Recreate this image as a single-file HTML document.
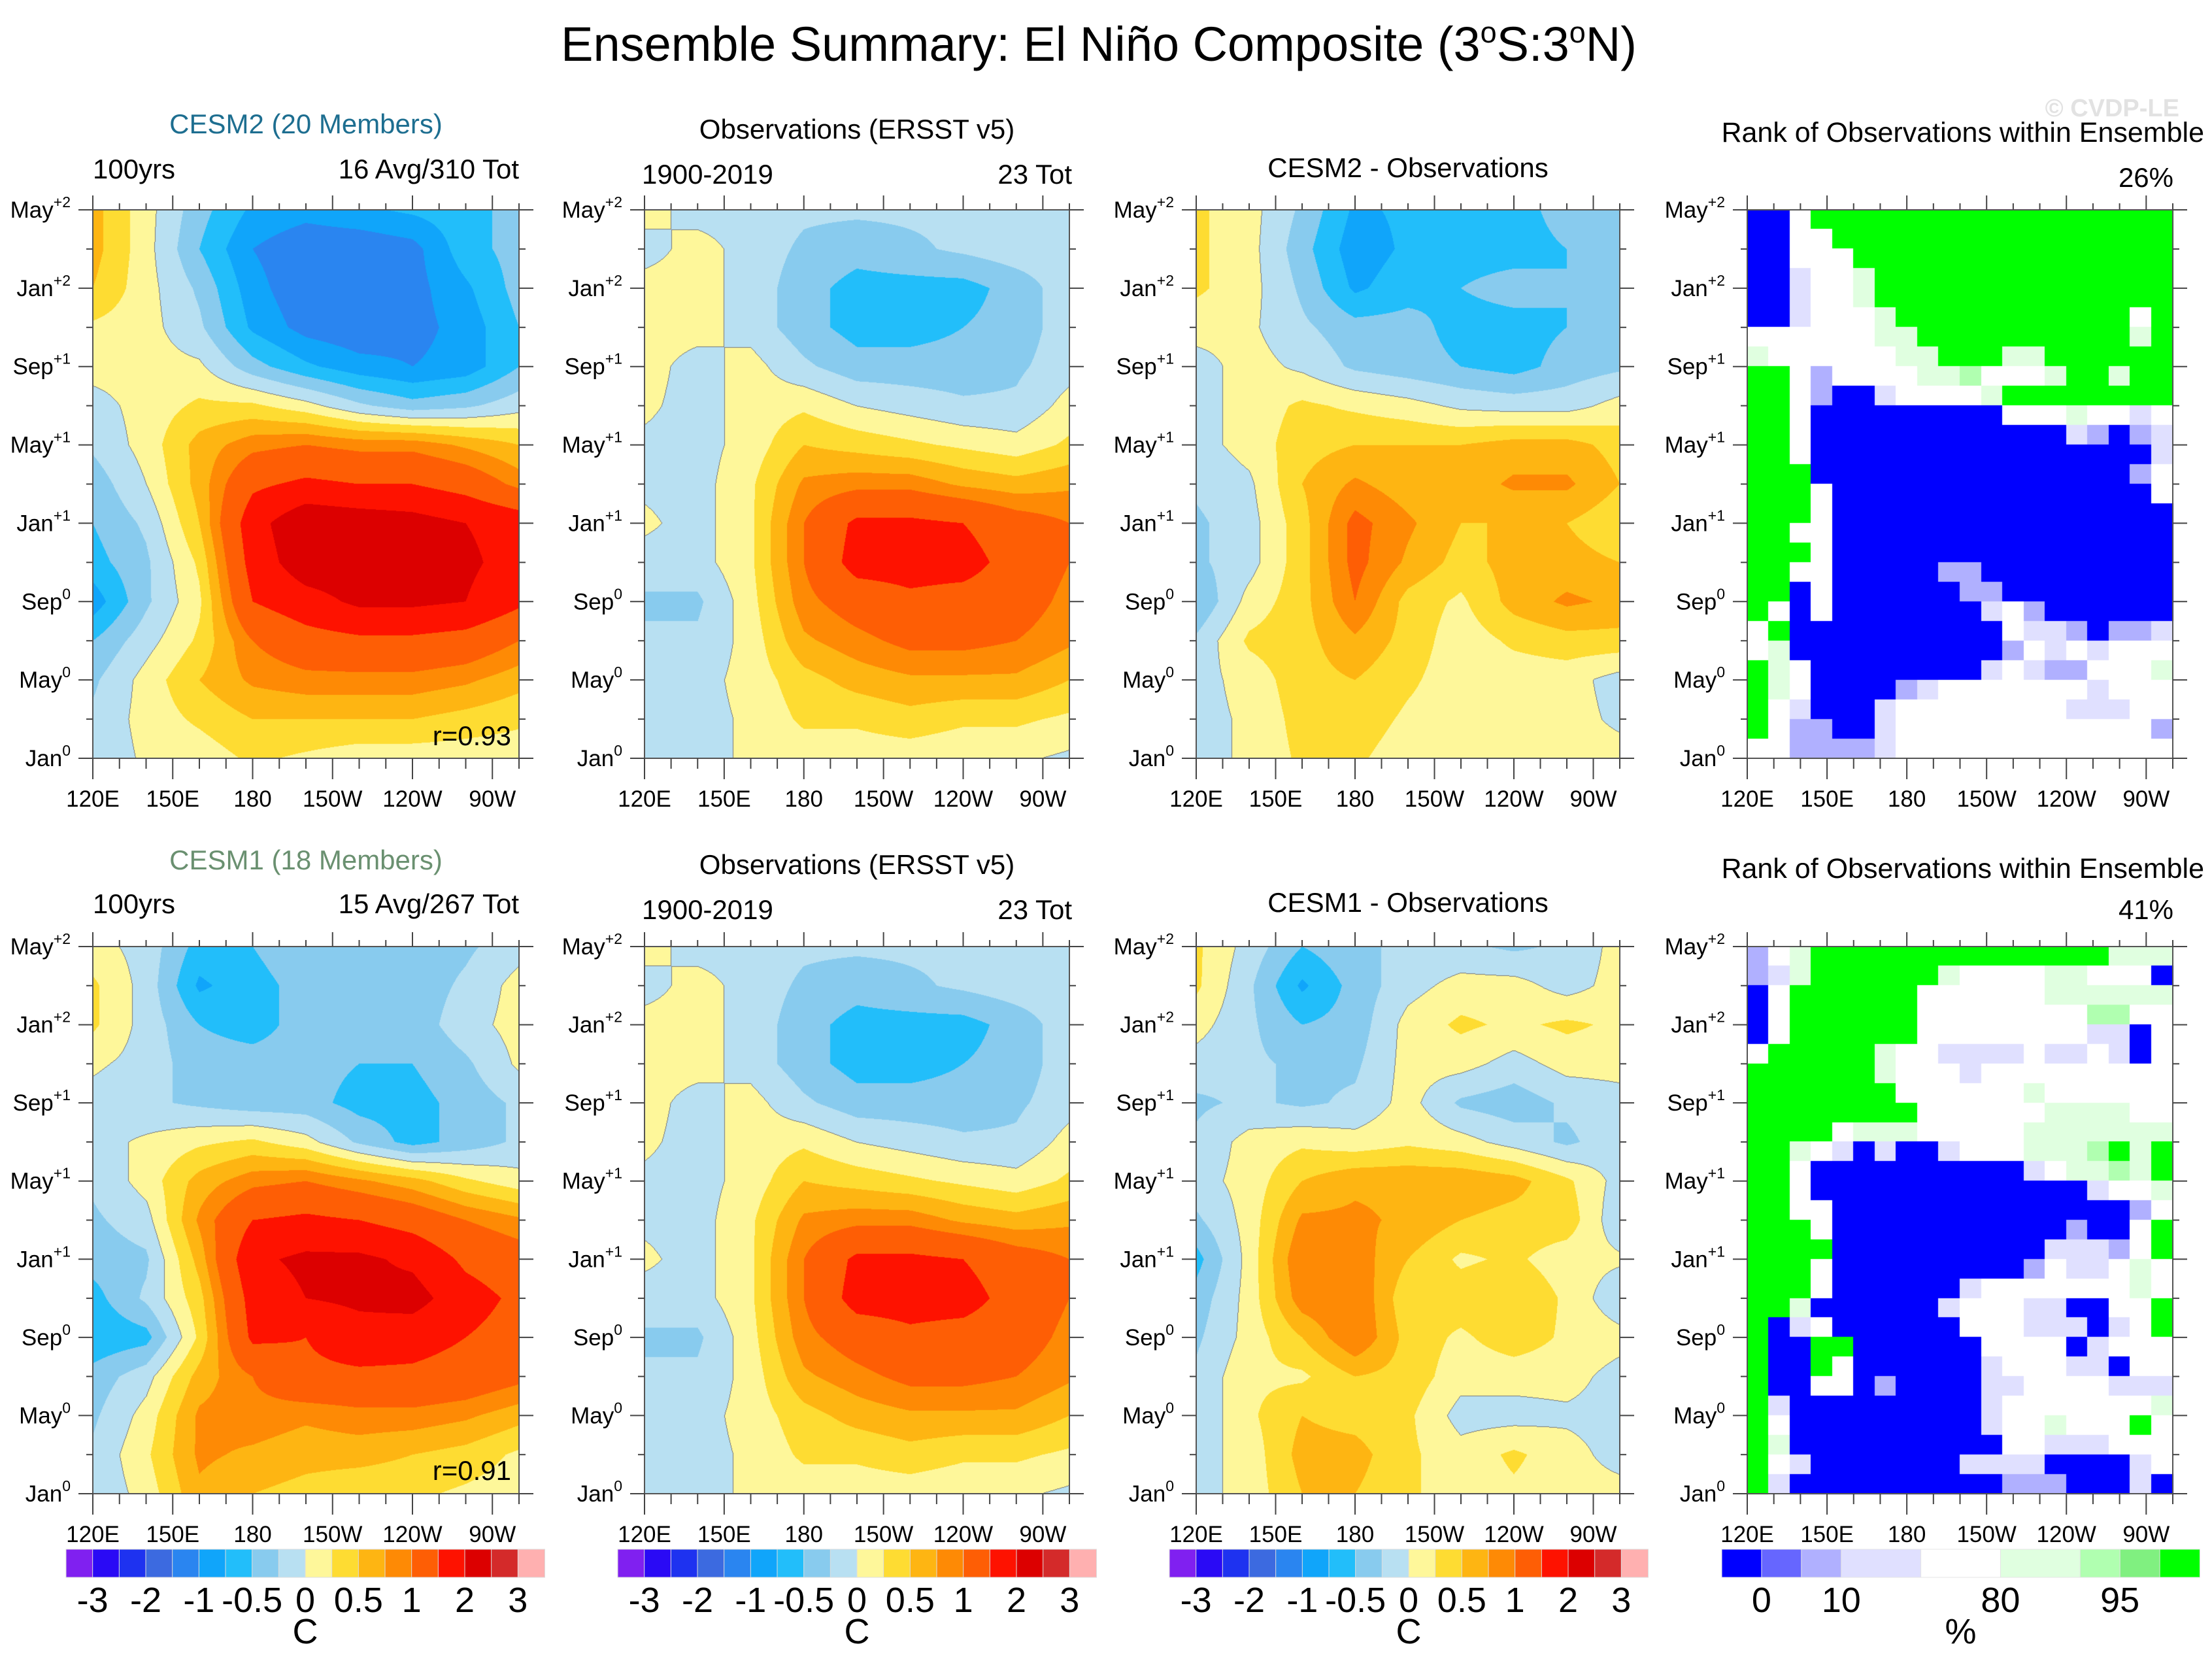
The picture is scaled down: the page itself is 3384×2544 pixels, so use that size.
<!DOCTYPE html>
<html><head><meta charset="utf-8"><title>Ensemble Summary: El Niño Composite</title>
<style>
html,body{margin:0;padding:0;background:#fff;}
#wrap{position:relative;width:3384px;height:2544px;overflow:hidden;}
#fills{position:absolute;left:0;top:0;}
#chart{position:absolute;left:0;top:0;}
text{font-family:"Liberation Sans",Arial,sans-serif;fill:#000;}
</style></head>
<body>
<div id="wrap">
<canvas id="fills" width="3384" height="2544"></canvas>
<svg id="chart" width="3384" height="2544" xmlns="http://www.w3.org/2000/svg">
<text x="1681" y="93" font-size="74" text-anchor="middle">Ensemble Summary: El Niño Composite (3<tspan font-size="45" dy="-28">o</tspan><tspan dy="28">S:3</tspan><tspan font-size="45" dy="-28">o</tspan><tspan dy="28">N)</tspan></text>
<text x="3334" y="178" font-size="38" font-weight="bold" text-anchor="end" style="fill:#e2e2e2">© CVDP-LE</text>
</svg>
</div>
<script>
// ---- colour scales ----
const tempLevels = [-3,-2.5,-2,-1.5,-1,-0.75,-0.5,-0.25,0,0.25,0.5,0.75,1,1.5,2,2.5,3];
const tempColors = ['#8020F0','#2A0AF5','#1E32F0','#3C6AE0','#2A85F0','#10A5FA','#22BEFA','#88CBEE','#B8E0F2','#FEF79A','#FEDC32','#FEB512','#FE8A05','#FE5E05','#FE1200','#DC0000','#D42A2A','#FFB0B0'];
const tempTickLabels = ['-3','-2','-1','-0.5','0','0.5','1','2','3'];
const rankColors = ['#0000FF','#6666FF','#B0B0FF','#E0E0FF','#FFFFFF','#E0FFE0','#B0FFB0','#80F080','#00FF00'];
const rankUnits = [1,1,1,2,2,2,1,1,1];
const rankTickLabels = ['0','10','80','95'];
const rankTickBoundary = [1,3,5,7];

// ---- axes ----
const lonTicks = [120,150,180,210,240,270];
const lonTickLabels = ['120E','150E','180','150W','120W','90W'];
const monthTicks = [0,4,8,12,16,20,24,28];
const monthNames = ['Jan','May','Sep','Jan','May','Sep','Jan','May'];
const monthSups = ['0','0','0','+1','+1','+1','+2','+2'];
const gridLons = [120,140,160,180,200,220,240,260,280];
const gridMonths = [28,26,24,22,20,18,16,14,12,10,8,6,4,2,0];

// ---- data (deg C) ----
const cesm2Comp = [
[0.6,0.1,-0.4,-0.8,-0.9,-0.8,-0.7,-0.6,-0.4],
[0.6,0.1,-0.5,-1.0,-1.2,-1.2,-1.1,-0.6,-0.4],
[0.5,0.1,-0.3,-0.9,-1.2,-1.2,-1.1,-0.8,-0.4],
[0.2,0.1,-0.2,-0.8,-1.1,-1.2,-1.1,-0.9,-0.5],
[0.1,0.1,0.05,-0.4,-0.7,-0.9,-1.0,-0.9,-0.5],
[-0.1,0.1,0.3,0.3,0.1,-0.2,-0.4,-0.3,-0.1],
[-0.2,0.1,0.6,0.9,1.0,0.9,0.9,0.7,0.5],
[-0.4,0.0,0.6,1.4,1.6,1.5,1.5,1.3,0.9],
[-0.5,-0.2,0.5,1.8,2.4,2.3,2.2,2.0,1.8],
[-0.6,-0.3,0.3,1.7,2.3,2.3,2.2,2.1,1.8],
[-0.9,-0.3,0.2,1.5,1.8,2.1,2.1,2.0,1.6],
[-0.5,-0.1,0.3,1.0,1.3,1.4,1.4,1.3,1.0],
[-0.3,0.1,0.5,0.8,0.9,0.9,0.9,0.8,0.6],
[-0.2,0.1,0.3,0.5,0.5,0.5,0.5,0.4,0.3],
[-0.2,0.05,0.1,0.3,0.2,0.1,0.1,0.1,0.1]];
const obsComp1 = [
[0.1,-0.1,-0.1,-0.2,-0.2,-0.2,-0.2,-0.2,-0.2],
[-0.1,0.1,-0.1,-0.3,-0.4,-0.3,-0.2,-0.1,-0.1],
[0.1,0.1,-0.1,-0.4,-0.6,-0.6,-0.6,-0.4,-0.1],
[0.1,0.1,-0.1,-0.4,-0.6,-0.6,-0.5,-0.4,-0.1],
[0.1,-0.1,0.1,-0.2,-0.4,-0.4,-0.4,-0.3,-0.1],
[0.05,-0.1,0.1,0.2,0.0,-0.1,-0.2,-0.2,0.1],
[-0.05,-0.1,0.1,0.5,0.4,0.3,0.2,0.1,0.3],
[-0.05,-0.1,0.2,0.8,0.9,0.9,0.7,0.6,0.7],
[0.05,-0.1,0.2,1.0,1.6,1.6,1.5,1.2,1.0],
[-0.1,-0.1,0.2,1.0,1.7,1.7,1.7,1.3,1.0],
[-0.3,-0.3,0.15,0.9,1.2,1.4,1.3,1.2,0.9],
[-0.2,-0.2,0.1,0.7,0.9,1.1,1.1,1.0,0.8],
[-0.1,-0.1,0.1,0.4,0.6,0.7,0.7,0.7,0.5],
[-0.1,-0.1,0.05,0.3,0.3,0.4,0.3,0.3,0.2],
[-0.1,-0.1,0.05,0.1,0.1,0.1,0.05,0.05,-0.05]];
const cesm2Diff = [
[0.3,0.1,-0.3,-0.8,-0.7,-0.5,-0.6,-0.4,-0.3],
[0.3,0.1,-0.4,-0.9,-0.7,-0.6,-0.6,-0.5,-0.4],
[0.3,0.1,-0.3,-0.8,-0.6,-0.5,-0.4,-0.5,-0.3],
[0.1,0.05,-0.2,-0.4,-0.4,-0.6,-0.6,-0.5,-0.3],
[-0.1,0.1,-0.05,-0.3,-0.4,-0.5,-0.6,-0.4,-0.3],
[-0.1,0.1,0.3,0.2,0.1,-0.05,-0.1,-0.1,0.1],
[-0.1,0.1,0.4,0.5,0.5,0.5,0.6,0.6,0.4],
[-0.2,-0.05,0.5,0.8,0.6,0.6,0.8,0.8,0.5],
[-0.3,-0.1,0.4,1.1,0.8,0.5,0.5,0.5,0.3],
[-0.3,-0.1,0.4,1.1,0.7,0.4,0.6,0.6,0.5],
[-0.5,0.1,0.4,1.0,0.4,0.2,0.6,0.8,0.7],
[-0.2,0.3,0.4,0.7,0.4,0.1,0.3,0.4,0.4],
[-0.1,0.1,0.4,0.5,0.3,0.1,0.1,0.1,-0.1],
[-0.1,0.05,0.35,0.4,0.2,0.1,0.1,0.1,-0.05],
[-0.1,0.05,0.3,0.3,0.1,0.1,0.05,0.1,0.1]];
const cesm1Comp = [
[0.1,-0.1,-0.6,-0.5,-0.3,-0.4,-0.4,-0.3,-0.1],
[0.3,-0.1,-0.8,-0.6,-0.4,-0.4,-0.4,-0.2,0.1],
[0.3,-0.1,-0.5,-0.6,-0.4,-0.4,-0.4,-0.1,0.1],
[0.05,-0.1,-0.4,-0.4,-0.4,-0.5,-0.5,-0.3,0.05],
[-0.1,-0.2,-0.3,-0.4,-0.4,-0.6,-0.6,-0.4,-0.2],
[-0.1,0.05,0.2,0.3,0.1,-0.3,-0.6,-0.4,-0.2],
[-0.2,0.1,0.6,0.9,1.0,0.8,0.6,0.3,0.1],
[-0.3,-0.1,0.8,1.5,1.6,1.5,1.3,1.0,0.8],
[-0.4,-0.3,0.6,1.9,2.1,2.1,1.9,1.4,1.2],
[-0.6,-0.2,0.4,1.7,2.0,2.1,2.2,1.7,1.4],
[-0.7,-0.6,0.3,1.6,1.5,1.8,1.7,1.5,1.3],
[-0.4,-0.1,0.6,1.0,1.4,1.4,1.4,1.3,1.1],
[-0.3,0.1,0.8,0.9,0.8,0.9,0.9,0.8,0.6],
[-0.2,0.2,0.8,0.7,0.6,0.6,0.5,0.4,0.2],
[-0.2,0.1,0.7,0.5,0.4,0.3,0.3,0.2,0.1]];
const obsComp2 = [
[0.1,-0.1,-0.1,-0.2,-0.2,-0.2,-0.2,-0.2,-0.2],
[-0.1,0.1,-0.1,-0.3,-0.4,-0.3,-0.2,-0.1,-0.1],
[0.1,0.1,-0.1,-0.4,-0.6,-0.6,-0.6,-0.4,-0.1],
[0.1,0.1,-0.1,-0.4,-0.6,-0.6,-0.5,-0.4,-0.1],
[0.1,-0.1,0.1,-0.2,-0.4,-0.4,-0.4,-0.3,-0.1],
[0.05,-0.1,0.1,0.2,0.0,-0.1,-0.2,-0.2,0.1],
[-0.05,-0.1,0.1,0.5,0.4,0.3,0.2,0.1,0.3],
[-0.05,-0.1,0.2,0.8,0.9,0.9,0.7,0.6,0.7],
[0.05,-0.1,0.2,1.0,1.6,1.6,1.5,1.2,1.0],
[-0.1,-0.1,0.2,1.0,1.7,1.7,1.7,1.3,1.0],
[-0.3,-0.3,0.15,0.9,1.2,1.4,1.3,1.2,0.9],
[-0.2,-0.2,0.1,0.7,0.9,1.1,1.1,1.0,0.8],
[-0.1,-0.1,0.1,0.4,0.6,0.7,0.7,0.7,0.5],
[-0.1,-0.1,0.05,0.3,0.3,0.4,0.3,0.3,0.2],
[-0.1,-0.1,0.05,0.1,0.1,0.1,0.05,0.05,-0.05]];
const cesm1Diff = [
[0.3,-0.1,-0.5,-0.3,-0.2,-0.2,-0.3,-0.2,0.1],
[0.3,-0.2,-0.8,-0.4,-0.1,0.1,0.1,-0.1,0.1],
[0.1,-0.2,-0.5,-0.4,0.1,0.3,0.2,0.3,0.2],
[-0.1,-0.2,-0.3,-0.3,0.1,0.1,-0.1,0.1,0.1],
[-0.3,-0.2,-0.3,-0.2,0.1,-0.3,-0.4,-0.2,-0.1],
[-0.2,0.1,0.2,0.1,0.2,0.1,-0.1,-0.3,-0.1],
[-0.1,0.1,0.5,0.7,0.7,0.7,0.6,0.3,-0.1],
[-0.3,0.1,0.8,0.8,0.7,0.5,0.4,0.4,-0.2],
[-0.6,0.1,1.0,0.9,0.5,0.2,0.3,0.1,0.05],
[-0.4,0.1,0.9,1.0,0.3,0.4,0.5,0.2,-0.2],
[-0.3,0.1,0.5,1.0,0.4,0.2,0.4,0.2,0.1],
[-0.2,0.2,0.2,0.5,0.4,0.1,0.1,0.1,-0.1],
[-0.2,0.2,0.5,0.4,0.3,-0.1,-0.1,-0.05,-0.1],
[-0.1,0.1,0.6,0.6,0.3,0.1,0.3,0.1,-0.1],
[-0.1,0.1,0.5,0.5,0.3,0.1,0.2,0.1,0.1]];

// rank category per cell (20 lon bins x 28 months, top row = May+2)
const rank2 = [
"00488888888888888888","00448888888888888888","00444888888888888888","00344588888888888888",
"00344588888888888888","00344458888888888848","44444455888888888858","54444445588855888888",
"88424444556444588588","88420034444588888888","88400000000044454434","88400000000000032023",
"88400000000000000003","88800000000000000024","88840000000000000004","88840000000000000000",
"88440000000000000000","88840000000000000000","88440000022000000000","88040000002200000000",
"84040000000342000000","48000000000043320223","45000000000024343444","85400000000343224445",
"85400002344444443444","84300034444444433344","84220034444444444442","44222234444444444444"];
const rank1 = [
"24588888888888888555","23588888854444554440","04888888444444555555","04888888444444446644",
"04888888444444443304","48888854433334334304","88888854443444444444","88888884444445444444",
"88888888444444555544","88884555444445555555","88543030034445556858","88400000000003455658",
"88400000000000003445","88440000000000000024","88840000000000020048","88880000000000333248",
"88840000000002433454","88840000003444444454","88500000034443300448","80340000004443330348",
"80088000000444403444","80084000000344433044","80044020000334444333","83000000000344444445",
"84000000000344544484","85000000000044333444","84300000003333000034","83000000000022200030"];

// ---- layout ----
const panels = [
 {name:'cesm2-composite', kind:'c', vals:cesm2Comp, x:142, y:321, w:652, h:839},
 {name:'obs-composite-top', kind:'c', vals:obsComp1, x:986, y:321, w:650, h:839},
 {name:'cesm2-minus-obs', kind:'c', vals:cesm2Diff, x:1830, y:321, w:648, h:839},
 {name:'rank-cesm2', kind:'r', vals:rank2, x:2673, y:321, w:651, h:839},
 {name:'cesm1-composite', kind:'c', vals:cesm1Comp, x:142, y:1448, w:652, h:837},
 {name:'obs-composite-bottom', kind:'c', vals:obsComp2, x:986, y:1448, w:650, h:837},
 {name:'cesm1-minus-obs', kind:'c', vals:cesm1Diff, x:1830, y:1448, w:648, h:837},
 {name:'rank-cesm1', kind:'r', vals:rank1, x:2673, y:1448, w:651, h:837}
];

const NS = 'http://www.w3.org/2000/svg';
const svg = document.getElementById('chart');
const ctx = document.getElementById('fills').getContext('2d');
function mk(tag, attrs, parent){
  const e = document.createElementNS(NS, tag);
  for (const k in attrs) e.setAttribute(k, attrs[k]);
  (parent || svg).appendChild(e);
  return e;
}
function hexRgb(h){ return [parseInt(h.substr(1,2),16),parseInt(h.substr(3,2),16),parseInt(h.substr(5,2),16)]; }
const tempRgb = tempColors.map(hexRgb);
function levelIndex(v){ let i=0; while(i<tempLevels.length && v>=tempLevels[i]) i++; return i; }

function xScale(p, lon){ return p.x + (lon-120)/160*p.w; }
function yScale(p, month){ return p.y + p.h - month/28*p.h; }

function sample(vals, lon, month){
  const fx = (lon - gridLons[0])/(gridLons[1]-gridLons[0]);
  const fy = (gridMonths[0]-month)/(gridMonths[0]-gridMonths[1]);
  const c0 = Math.max(0, Math.min(gridLons.length-2, Math.floor(fx)));
  const r0 = Math.max(0, Math.min(gridMonths.length-2, Math.floor(fy)));
  const tx = Math.max(0, Math.min(1, fx-c0)), ty = Math.max(0, Math.min(1, fy-r0));
  const a = vals[r0][c0], b = vals[r0][c0+1], c = vals[r0+1][c0], d = vals[r0+1][c0+1];
  return (a*(1-tx)+b*tx)*(1-ty) + (c*(1-tx)+d*tx)*ty;
}

function drawContour(p){
  const W = Math.round(p.w), H = Math.round(p.h);
  const img = ctx.createImageData(W, H);
  const lvl = new Int8Array(W*H);
  for (let j=0;j<H;j++){
    const month = 28 - (j+0.5)/H*28;
    for (let i=0;i<W;i++){
      const lon = 120 + (i+0.5)/W*160;
      lvl[j*W+i] = levelIndex(sample(p.vals, lon, month));
    }
  }
  for (let j=0;j<H;j++) for (let i=0;i<W;i++){
    const k = j*W+i, L = lvl[k];
    let col = tempRgb[L];
    if (L===9 && ((i>0 && lvl[k-1]===8) || (i<W-1 && lvl[k+1]===8) || (j>0 && lvl[k-W]===8) || (j<H-1 && lvl[k+W]===8))) col=[120,120,120];
    img.data[k*4]=col[0]; img.data[k*4+1]=col[1]; img.data[k*4+2]=col[2]; img.data[k*4+3]=255;
  }
  ctx.putImageData(img, Math.round(p.x), Math.round(p.y));
}
function drawRank(p){
  const rows = p.vals.length, cols = p.vals[0].length;
  for (let r=0;r<rows;r++) for (let c=0;c<cols;c++){
    const cat = +p.vals[r][c];
    const m1 = 28 - r*28/rows, m0 = 28 - (r+1)*28/rows;
    const l0 = 120 + c*160/cols, l1 = 120 + (c+1)*160/cols;
    const x0 = xScale(p,l0), x1 = xScale(p,l1), y0 = yScale(p,m1), y1 = yScale(p,m0);
    ctx.fillStyle = rankColors[cat];
    ctx.fillRect(Math.floor(x0), Math.floor(y0), Math.ceil(x1-x0)+1, Math.ceil(y1-y0)+1);
  }
}

function drawAxes(p){
  const g = mk('g', {});
  
  
  const frame = mk('rect', {x:p.x, y:p.y, width:p.w, height:p.h, fill:'none', stroke:'#555', 'stroke-width':2}, g);
  
  
  for (let lon=120; lon<=280; lon+=10){
    const X = xScale(p, lon);
    const major = lonTicks.indexOf(lon) >= 0;
    const len = major ? 22 : 10;
    mk('line', {x1:X, y1:p.y, x2:X, y2:p.y-len, stroke:'#444', 'stroke-width':2}, g);
    mk('line', {x1:X, y1:p.y+p.h, x2:X, y2:p.y+p.h+len+ (major?10:6), stroke:'#444', 'stroke-width':2}, g);
  }
  lonTicks.forEach((lon, i) => {
    const t = mk('text', {x:xScale(p, lon), y:p.y+p.h+74, 'font-size':35, 'text-anchor':'middle'}, g);
    t.textContent = lonTickLabels[i];
    
    
  });
  for (let m=0; m<=28; m+=2){
    const Y = yScale(p, m);
    const major = monthTicks.indexOf(m) >= 0;
    const len = major ? 22 : 10;
    mk('line', {x1:p.x, y1:Y, x2:p.x-len, y2:Y, stroke:'#444', 'stroke-width':2}, g);
    mk('line', {x1:p.x+p.w, y1:Y, x2:p.x+p.w+len, y2:Y, stroke:'#444', 'stroke-width':2}, g);
  }
  monthTicks.forEach((m, i) => {
    const t = mk('text', {x:p.x-34, y:yScale(p, m)+12, 'font-size':35, 'text-anchor':'end'}, g);
    
    
    const a = mk('tspan', {}, t); a.textContent = monthNames[i];
    const s = mk('tspan', {'font-size':23, dy:-16}, t); s.textContent = monthSups[i];
  });
}

function label(txt, x, y, size, anchor, name, color){
  const t = mk('text', {x:x, y:y, 'font-size':size, 'text-anchor':anchor});
  if (color) t.setAttribute('style', 'fill:' + color);
  t.textContent = txt;
  
  
  return t;
}

panels.forEach(p => { if (p.kind==='c') drawContour(p); else drawRank(p); drawAxes(p); });

label('CESM2 (20 Members)', 468, 204, 42, 'middle', 'cesm2-title', '#1d6e90');
label('100yrs', 142, 273, 42, 'start', 'cesm2-years', null);
label('16 Avg/310 Tot', 794, 273, 42, 'end', 'cesm2-count', null);
label('r=0.93', 782, 1140, 42, 'end', 'cesm2-correlation', null);
label('Observations (ERSST v5)', 1311, 212, 42, 'middle', 'obs-title-top', null);
label('1900-2019', 982, 281, 42, 'start', 'obs-years-top', null);
label('23 Tot', 1640, 281, 42, 'end', 'obs-count-top', null);
label('CESM2 - Observations', 2154, 271, 42, 'middle', 'cesm2-diff-title', null);
label('Rank of Observations within Ensemble', 3372, 217, 43, 'end', 'rank-title-top', null);
label('26%', 3325, 286, 42, 'end', 'rank-percent-top', null);

label('CESM1 (18 Members)', 468, 1330, 42, 'middle', 'cesm1-title', '#6a9070');
label('100yrs', 142, 1397, 42, 'start', 'cesm1-years', null);
label('15 Avg/267 Tot', 794, 1397, 42, 'end', 'cesm1-count', null);
label('r=0.91', 782, 2264, 42, 'end', 'cesm1-correlation', null);
label('Observations (ERSST v5)', 1311, 1337, 42, 'middle', 'obs-title-bottom', null);
label('1900-2019', 982, 1406, 42, 'start', 'obs-years-bottom', null);
label('23 Tot', 1640, 1406, 42, 'end', 'obs-count-bottom', null);
label('CESM1 - Observations', 2154, 1395, 42, 'middle', 'cesm1-diff-title', null);
label('Rank of Observations within Ensemble', 3372, 1343, 43, 'end', 'rank-title-bottom', null);
label('41%', 3325, 1406, 42, 'end', 'rank-percent-bottom', null);

const tempBars = [{x:101, w:732}, {x:945, w:732}, {x:1789, w:732}];
tempBars.forEach((b, bi) => {
  const g = mk('g', {});
  
  
  const bw = b.w / tempColors.length;
  tempColors.forEach((c, i) => {
    const r = mk('rect', {x:b.x+i*bw, y:2370, width:bw+0.5, height:43, fill:c, stroke:'#ddd', 'stroke-width':1}, g);
    
    
  });
  tempTickLabels.forEach((t, i) => {
    const tx = mk('text', {x:b.x+(1+2*i)*bw, y:2466, 'font-size':54, 'text-anchor':'middle'}, g);
    tx.textContent = t;
    
    
  });
  const u = mk('text', {x:b.x+9*bw, y:2514, 'font-size':54, 'text-anchor':'middle'}, g);
  u.textContent = 'C';
  
  
});
(function(){
  const g = mk('g', {});
  
  
  const x0 = 2634, W = 731, unit = W / rankUnits.reduce((a,b)=>a+b,0);
  let acc = 0; const bounds = [0];
  rankColors.forEach((c, i) => {
    const r = mk('rect', {x:x0+acc*unit, y:2370, width:rankUnits[i]*unit+0.5, height:43, fill:c, stroke:'#e4e4e4', 'stroke-width':1}, g);
    
    
    acc += rankUnits[i]; bounds.push(acc);
  });
  rankTickLabels.forEach((t, i) => {
    const tx = mk('text', {x:x0+bounds[rankTickBoundary[i]]*unit, y:2466, 'font-size':54, 'text-anchor':'middle'}, g);
    tx.textContent = t;
    
    
  });
  const u = mk('text', {x:x0+6*unit, y:2514, 'font-size':54, 'text-anchor':'middle'}, g);
  u.textContent = '%';
  
  
})();
</script>
</body></html>
